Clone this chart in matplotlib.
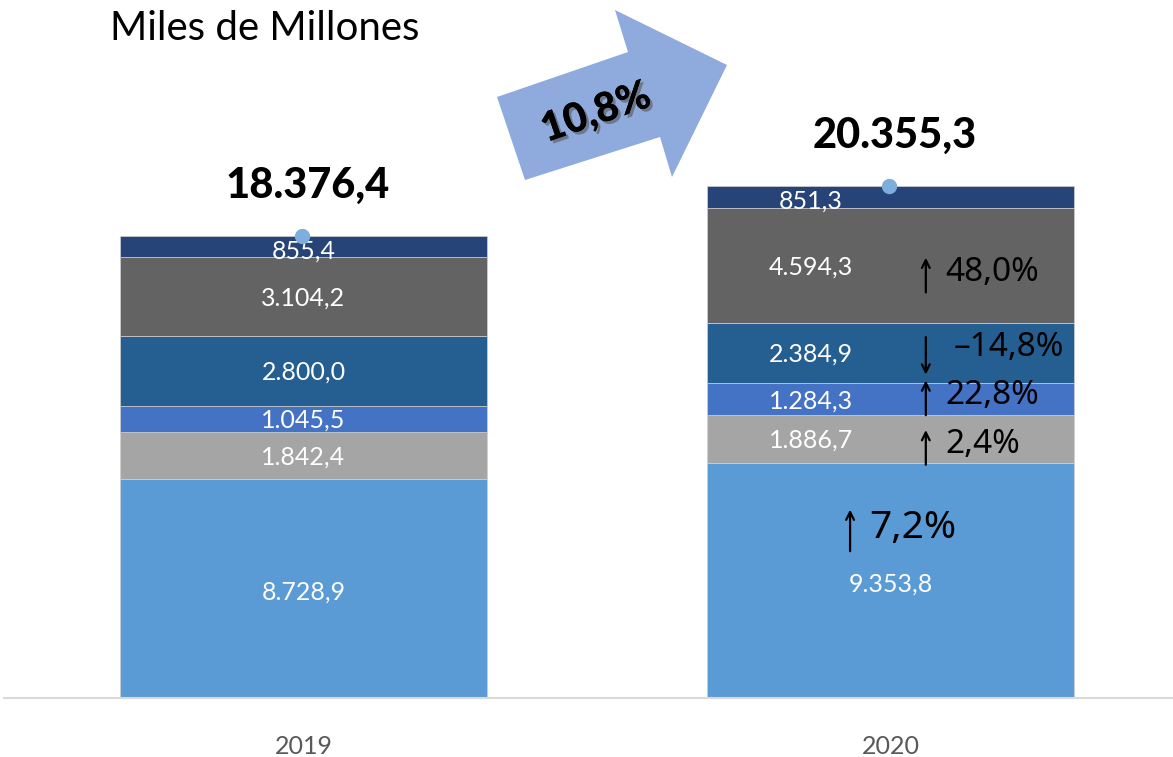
import numpy as np
import matplotlib
matplotlib.use("Agg")
import matplotlib.pyplot as plt
import matplotlib.transforms as mtransforms
from matplotlib.patches import Polygon
import matplotlib.patheffects as pe

# datos (miles de millones)
anios = ["2019", "2020"]
azul_claro = [8728.9, 9353.8]
gris = [1842.4, 1886.7]
azul_medio = [1045.5, 1284.3]
azul_oscuro = [2800.0, 2384.9]
gris_oscuro = [3104.2, 4594.3]
azul_marino = [855.4, 851.3]

series = [azul_claro, gris, azul_medio, azul_oscuro, gris_oscuro, azul_marino]
colores = ["#5B9BD5", "#A5A5A5", "#4472C4", "#255E91", "#636363", "#264478"]

FUENTE = "Lato"


def fmt(v, dec=1):
    s = f"{v:,.{dec}f}"
    return s.replace(",", "X").replace(".", ",").replace("X", ".")


fig = plt.figure(figsize=(11.73, 7.57), dpi=100)
ax = fig.add_axes([4 / 1173, 59 / 757, 1169 / 1173, 698 / 757])

x = np.arange(len(anios))
ancho = 0.625
base = np.zeros(len(anios))
for vals, col in zip(series, colores):
    ax.bar(x, vals, ancho, bottom=base, color=col, edgecolor="#D0D0D0", linewidth=0.5)
    base = base + np.array(vals)
totales = base

ax.set_xlim(-0.51, 1.481)
ax.set_ylim(0, 27760)

# etiquetas de segmentos
desp_x = [0.0, -0.136]  # desplazamiento horizontal de etiquetas por año
base = np.zeros(len(anios))
for k, vals in enumerate(series):
    for i, v in enumerate(vals):
        xi = x[i] if k == 0 else x[i] + desp_x[i]
        dy = -3 if k in (0, 5) else -1
        ax.annotate(fmt(v), (xi, base[i] + v / 2), xytext=(0, dy), textcoords="offset points",
                    ha="center", va="center", color="white", fontsize=18, family=FUENTE)
    base = base + np.array(vals)

# totales con punto
ax.plot(x - 0.003, totales, "o", color="#7EAEDD", markersize=10, zorder=5)
for i, t in enumerate(totales):
    ax.annotate(fmt(t), (x[i], t), xytext=(3, 36), textcoords="offset points",
                ha="center", va="center", fontsize=30, fontweight="black", family=FUENTE, color="black")


def desplazado(dy):
    return ax.transData + mtransforms.ScaledTranslation(0, dy / 72, fig.dpi_scale_trans)


# variaciones 2020 vs 2019
var = [(series[k][1] / series[k][0] - 1) * 100 for k in range(len(series))]
# (x flecha, dy texto en pt, tamaño, largo flecha pt) por segmento; el último no lleva
pos_var = [(0.931, 38, 28, 30), (1.06, -4, 24, 25), (1.06, 3, 24, 25), (1.06, 4, 24, 27), (1.06, -5, 24, 25)]
base = np.zeros(len(anios))
for k in range(len(series)):
    v1 = series[k][1]
    if k < len(pos_var):
        xa, dy, fs, largo = pos_var[k]
        ym = base[1] + v1 / 2
        sube = var[k] > 0
        ca = dy - 2 if sube else dy - 6
        y_ini, y_fin = (ca - largo / 2, ca + largo / 2) if sube else (ca + largo / 2, ca - largo / 2)
        ax.annotate("", xy=(xa, ym), xycoords=desplazado(y_fin),
                    xytext=(xa, ym), textcoords=desplazado(y_ini),
                    arrowprops=dict(arrowstyle="->", color="black", lw=1.6,
                                    shrinkA=0, shrinkB=0, mutation_scale=14))
        texto = fmt(var[k]) + "%"
        if var[k] < 0:
            texto = "\u2013" + fmt(abs(var[k])) + "%"
        ax.annotate(texto, (xa, ym), xytext=(14 if sube else 20, dy), textcoords="offset points",
                    ha="left", va="center", fontsize=fs, family="Noto Sans", fontweight="medium",
                    color="black")
    base = base + np.array(series[k])

# ejes
for s in ["top", "left", "right"]:
    ax.spines[s].set_visible(False)
ax.spines["bottom"].set_color("#D9D9D9")
ax.spines["bottom"].set_linewidth(1.5)
ax.set_yticks([])
ax.set_xticks(x)
ax.set_xticklabels(anios, color="#595959", fontsize=18, family=FUENTE)
ax.tick_params(axis="x", length=0, pad=27)

# titulo
fig.text(110 / 1173, 1 - 28 / 757, "Miles de Millones", fontsize=29, family=FUENTE,
         ha="left", va="center", color="black")

# flecha de crecimiento total
pts = [(525, 180), (497, 97), (628, 52), (615, 10), (727, 65), (672, 177), (660, 137)]
flecha = Polygon([(px / 1173, 1 - py / 757) for px, py in pts], closed=True,
                 transform=fig.transFigure, facecolor="#8FAADC", edgecolor="none")
fig.patches.append(flecha)
crec = (totales[1] / totales[0] - 1) * 100
fig.text(596 / 1173, 1 - 113 / 757, fmt(crec) + "%", rotation=19, fontsize=29,
         fontweight="black", family=FUENTE, ha="center", va="center", color="black",
         path_effects=[pe.withSimplePatchShadow(offset=(2, -2), shadow_rgbFace="#555555", alpha=0.6),
                       pe.Normal()])

fig.savefig("out.png", dpi=100)
